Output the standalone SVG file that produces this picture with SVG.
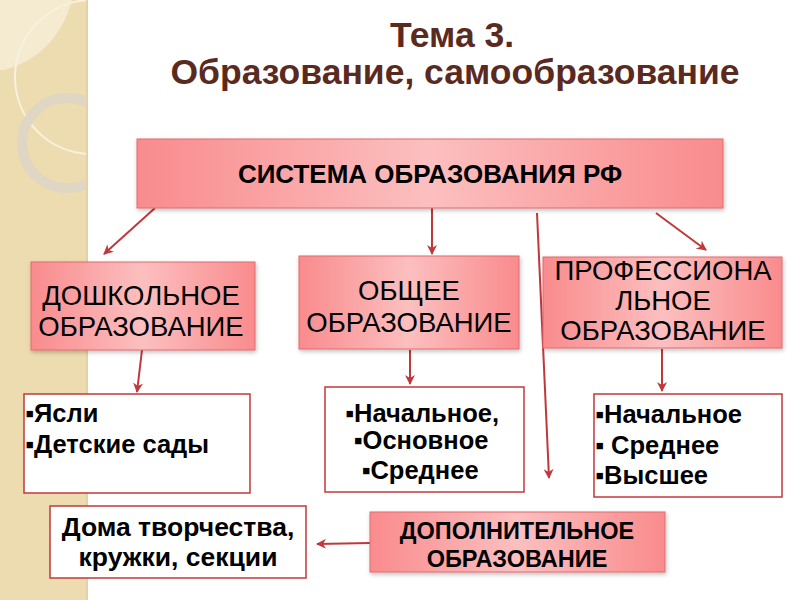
<svg xmlns="http://www.w3.org/2000/svg" width="800" height="600" viewBox="0 0 800 600">
<defs>
<linearGradient id="pink" x1="0" y1="0" x2="1" y2="0">
<stop offset="0" stop-color="#f98b8d"/>
<stop offset="0.5" stop-color="#fcbfbf"/>
<stop offset="1" stop-color="#f98b8d"/>
</linearGradient>
<filter id="sh" x="-10%" y="-10%" width="120%" height="130%">
<feDropShadow dx="1" dy="2" stdDeviation="2" flood-color="#000" flood-opacity="0.25"/>
</filter>
<marker id="ah" viewBox="0 0 10 10" refX="9" refY="5" markerWidth="5" markerHeight="5" orient="auto" markerUnits="strokeWidth">
<path d="M0,0 L10,5 L0,10 L3,5 Z" fill="#c0383c"/>
</marker>
<clipPath id="band"><rect x="0" y="0" width="88" height="600"/></clipPath>
<style>
.pk{fill:url(#pink);stroke:#e06b6e;stroke-width:1;filter:url(#sh)}
.wb{fill:#fff;stroke:#c0383c;stroke-width:1.5}
.t{font-family:"Liberation Sans",Arial,sans-serif;fill:#000}
.n{font-size:27.5px;text-anchor:middle}
.b{font-size:25.5px;font-weight:bold}
.c{text-anchor:middle}
.ttl{font-family:"Liberation Sans",Arial,sans-serif;font-size:35.5px;font-weight:bold;fill:#5b2a1f;text-anchor:middle}
.ar{stroke:#c0383c;stroke-width:2;fill:none;marker-end:url(#ah)}
</style>
</defs>
<rect width="800" height="600" fill="#fff"/>
<g id="band-deco" clip-path="url(#band)">
<rect x="0" y="0" width="88" height="600" fill="#eddcaf"/>
<path d="M0,0 H72 C62,36 40,60 4,70 H0 Z" fill="#f5ebd0"/>
<circle cx="92" cy="77" r="77" fill="none" stroke="#f8f1df" stroke-width="2"/>
<circle cx="67" cy="143" r="45" fill="none" stroke="#ddd5c6" stroke-width="10" opacity="0.9"/>
<rect x="86" y="0" width="2" height="600" fill="#e3d2a2"/>
</g>
<g id="title">
<text class="ttl" x="452" y="47">Тема 3.</text>
<text class="ttl" x="455" y="84">Образование, самообразование</text>
</g>
<g id="connectors">
<line class="ar" x1="155" y1="208" x2="104" y2="254"/>
<line class="ar" x1="432" y1="208" x2="432" y2="254"/>
<line class="ar" x1="537" y1="213" x2="549" y2="478"/>
<line class="ar" x1="656" y1="213" x2="706" y2="250"/>
<line class="ar" x1="142" y1="350" x2="137" y2="392"/>
<line class="ar" x1="410" y1="350" x2="410" y2="384"/>
<line class="ar" x1="662" y1="349" x2="662" y2="391"/>
<line class="ar" x1="370" y1="543" x2="317" y2="544"/>
</g>
<g id="system">
<rect class="pk" x="137" y="139" width="586" height="69"/>
<text class="t c" x="430" y="183" style="font-size:26px;font-weight:bold">СИСТЕМА ОБРАЗОВАНИЯ РФ</text>
</g>
<g id="preschool">
<rect class="pk" x="31" y="262" width="224" height="88"/>
<text class="t n" x="141" y="305">ДОШКОЛЬНОЕ</text>
<text class="t n" x="141" y="336">ОБРАЗОВАНИЕ</text>
</g>
<g id="general">
<rect class="pk" x="299" y="256" width="220" height="93"/>
<text class="t n" x="409" y="300">ОБЩЕЕ</text>
<text class="t n" x="409" y="332">ОБРАЗОВАНИЕ</text>
</g>
<g id="professional">
<rect class="pk" x="543" y="257" width="239" height="91"/>
<text class="t n" x="663" y="280">ПРОФЕССИОНА</text>
<text class="t n" x="663" y="310">ЛЬНОЕ</text>
<text class="t n" x="663" y="340">ОБРАЗОВАНИЕ</text>
</g>
<g id="preschool-list">
<rect class="wb" x="24" y="394" width="226" height="99"/>
<text class="t b" x="25" y="422">▪Ясли</text>
<text class="t b" x="25" y="453">▪Детские сады</text>
</g>
<g id="general-list">
<rect class="wb" x="325" y="387" width="199" height="105"/>
<text class="t b c" x="422" y="422">▪Начальное,</text>
<text class="t b c" x="421" y="449">▪Основное</text>
<text class="t b c" x="420" y="479">▪Среднее</text>
</g>
<g id="professional-list">
<rect class="wb" x="594" y="394" width="188" height="103"/>
<text class="t b" x="595" y="423">▪Начальное</text>
<text class="t b" x="595" y="454">▪ Среднее</text>
<text class="t b" x="595" y="484">▪Высшее</text>
</g>
<g id="clubs">
<rect class="wb" x="50" y="506" width="256" height="72"/>
<text class="t c" x="178" y="536" style="font-size:26.5px;font-weight:bold">Дома творчества,</text>
<text class="t c" x="178" y="566" style="font-size:26.5px;font-weight:bold">кружки, секции</text>
</g>
<g id="additional">
<rect class="pk" x="370" y="512" width="295" height="60"/>
<text class="t c" x="517" y="539" style="font-size:23.5px;font-weight:bold">ДОПОЛНИТЕЛЬНОЕ</text>
<text class="t c" x="517" y="567" style="font-size:23.5px;font-weight:bold">ОБРАЗОВАНИЕ</text>
</g>
</svg>
